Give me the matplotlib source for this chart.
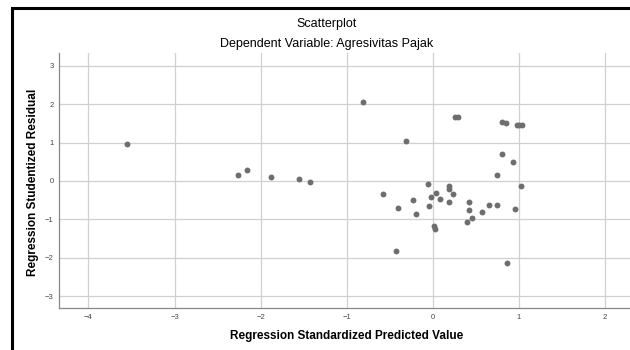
import matplotlib
matplotlib.use("Agg")
import matplotlib.pyplot as plt
from matplotlib.patches import Rectangle

plt.rcParams['font.family'] = ['Liberation Sans', 'DejaVu Sans']

# standardized predicted value / studentized residual
pred = [-3.55, -2.26, -2.16, -1.88, -1.55, -1.43,
        -0.81, 0.26, 0.29, 0.80, 0.845, 0.98, 1.00, 1.03,
        -0.31, 0.80, 0.93, 0.74, 1.02, -0.06, -0.58,
        0.19, 0.19, 0.04, -0.02, 0.085, 0.23, -0.23, 0.185,
        -0.41, -0.04, -0.19, 0.42, 0.415, 0.655, 0.75, 0.575,
        0.96, 0.45, 0.40, 0.01, 0.03, -0.43, 0.865]
resid = [0.96, 0.16, 0.29, 0.10, 0.06, -0.03,
         2.05, 1.66, 1.66, 1.53, 1.50, 1.47, 1.47, 1.45,
         1.03, 0.70, 0.50, 0.15, -0.13, -0.08, -0.34,
         -0.13, -0.20, -0.31, -0.42, -0.46, -0.35, -0.50, -0.55,
         -0.70, -0.65, -0.86, -0.54, -0.75, -0.62, -0.63, -0.81,
         -0.74, -0.97, -1.07, -1.17, -1.26, -1.83, -2.14]

xticks = [-4, -3, -2, -1, 0, 1, 2]
yticks = [-3, -2, -1, 0, 1, 2, 3]

fig = plt.figure(figsize=(6.3, 3.5), dpi=100)
ax = fig.add_axes([0.094, 0.119, 0.906, 0.730])

ax.scatter(pred, resid, s=18, color='#6e6e6e', zorder=3, linewidths=0)

ax.set_xlim(-4.34, 2.29)
ax.set_ylim(-3.32, 3.34)
ax.set_xticks(xticks)
ax.set_yticks(yticks)
ax.grid(True, color='#d0d0d0', linewidth=0.9)
ax.tick_params(length=0, labelsize=5.5, labelcolor='#444444', pad=4)
for s in ['top', 'right']:
    ax.spines[s].set_visible(False)
for s in ['left', 'bottom']:
    ax.spines[s].set_color('#888888')
    ax.spines[s].set_linewidth(0.9)

fig.text(347 / 630, 1 - 336 / 350, 'Regression Standardized Predicted Value',
         ha='center', va='center', fontsize=8.5, fontweight='bold')
fig.text(33 / 630, 1 - 182 / 350, 'Regression Studentized Residual',
         ha='center', va='center', rotation=90, fontsize=8.5, fontweight='bold')

fig.text(327 / 630, 1 - 24 / 350, 'Scatterplot', ha='center', va='center',
         fontsize=9)
fig.text(327 / 630, 1 - 44 / 350, 'Dependent Variable: Agresivitas Pajak',
         ha='center', va='center', fontsize=9)

# outer frame
fig.patches.append(Rectangle((12 / 630, -0.05), 1.0, 1 - 8 / 350 + 0.05,
                             transform=fig.transFigure, fill=False,
                             edgecolor='black', linewidth=2.2))

fig.savefig('out.png', dpi=100, facecolor='white')
